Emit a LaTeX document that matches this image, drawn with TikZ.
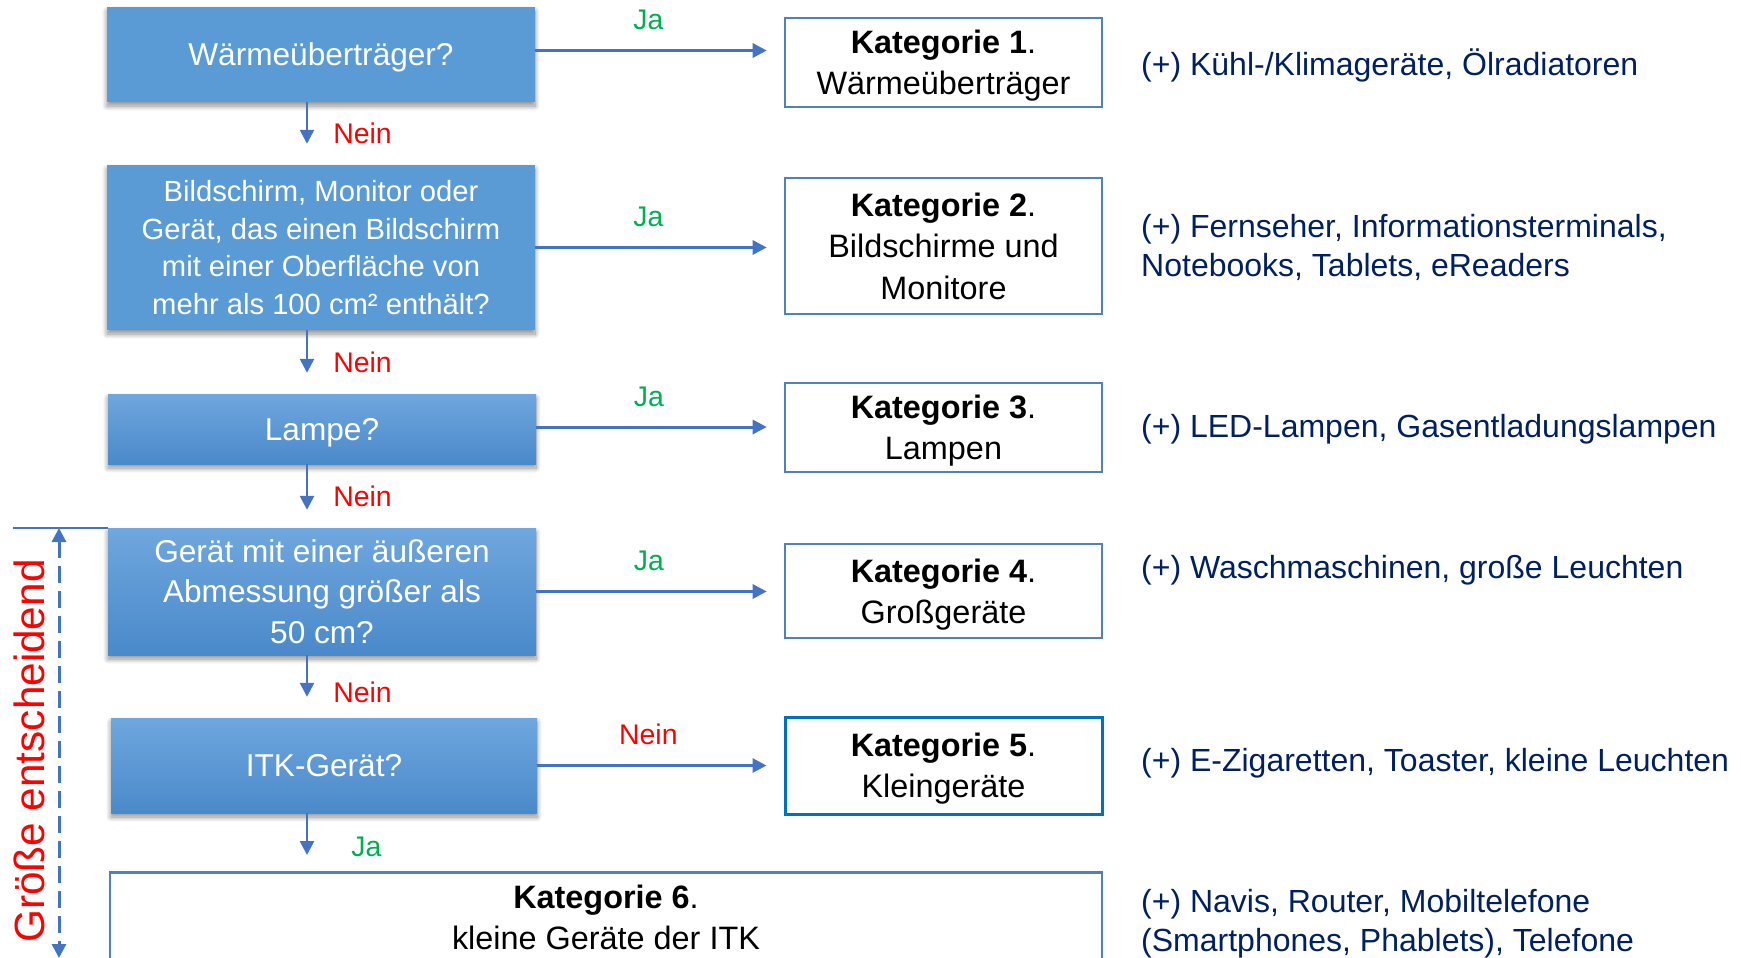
\documentclass[tikz,border=0pt]{standalone}
\usepackage{fontspec}
\setmainfont{Liberation Sans}
\usepackage{xcolor}
\usepackage{tikz}
\usetikzlibrary{arrows.meta}
\usetikzlibrary{positioning}
\usetikzlibrary{shadows.blur}

\definecolor{boxblue}{HTML}{5B9BD5}
\definecolor{gradtop}{HTML}{6FA7DE}
\definecolor{gradbot}{HTML}{4A89CA}
\definecolor{arrowblue}{HTML}{4472C4}
\definecolor{katblue}{HTML}{4F81BD}
\definecolor{katfive}{HTML}{0070C0}
\definecolor{navy}{HTML}{002060}
\definecolor{jagreen}{HTML}{00B050}
\definecolor{neinred}{HTML}{FF0000}

\begin{document}
\begin{tikzpicture}[x=1pt, y=-1pt,
    frage/.style={draw=none, text=white, align=center, inner sep=0pt, text depth=0pt,
      minimum width=428pt, font=\fontsize{31.6pt}{40.5pt}\selectfont,
      blur shadow={shadow xshift=0pt, shadow yshift=-4pt, shadow blur radius=5pt,
        shadow blur steps=10, shadow opacity=45}},
    frageflat/.style={frage, fill=boxblue},
    fragegrad/.style={frage, top color=gradtop, bottom color=gradbot},
    kattext/.style={align=center, inner sep=0pt, text depth=0pt, font=\fontsize{32.4pt}{41.3pt}\selectfont},
    kat/.style={kattext, draw=katblue, line width=2.6pt, fill=white, minimum width=317pt},
    info/.style={anchor=west, align=left, text=navy, inner sep=0pt,
      font=\fontsize{32pt}{39pt}\selectfont},
    pfeil/.style={draw=arrowblue, line width=3pt, -{Triangle[length=14pt, width=14pt]}},
    runter/.style={pfeil, line width=2.6pt, shorten >=21pt},
    rechts/.style={pfeil, shorten >=17pt},
    ja/.style={text=jagreen, inner sep=0pt, font=\fontsize{28.4pt}{34pt}\selectfont},
    nein/.style={ja, text=neinred}]
    \useasboundingbox (0,0) rectangle (1741,958);
    \clip (0,0) rectangle (1741,958);

    % Fragen
    \node[frageflat, minimum height=95pt] (A) at (321,54.5) {Wärmeüberträger?};
    \node[frageflat, minimum height=165pt, font=\fontsize{29.2pt}{37.7pt}\selectfont] (B) at (321,247.5)
      {Bildschirm, Monitor oder\\Gerät, das einen Bildschirm\\mit einer Oberfläche von\\mehr als 100 cm² enthält?};
    \node[fragegrad, minimum height=70pt] (C) at (322,429) {Lampe?};
    \node[fragegrad, minimum height=127pt] (D) at (322,591.5) {Gerät mit einer äußeren\\Abmessung größer als\\50 cm?};
    \node[fragegrad, minimum height=95pt, minimum width=426pt] (E) at (324,765.5) {ITK-Gerät?};

    % Kategorien
    \node[kat, minimum height=89pt] (K1) at (943.5,62.5) {\textbf{Kategorie 1}.\\Wärmeüberträger};
    \node[kat, minimum height=136pt] (K2) at (943.5,246) {\textbf{Kategorie 2}.\\Bildschirme und\\Monitore};
    \node[kat, minimum height=89pt] (K3) at (943.5,427.5) {\textbf{Kategorie 3}.\\Lampen};
    \node[kat, minimum height=94pt] (K4) at (943.5,591) {\textbf{Kategorie 4}.\\Großgeräte};
    \node[kat, minimum height=97pt, draw=katfive, line width=3pt] (K5) at (943.5,765.5) {\textbf{Kategorie 5}.\\Kleingeräte};
    \node[kat, anchor=north, minimum width=992pt, minimum height=200pt] (K6) at (606,871) {};
    \node[kattext] (K6text) at (606,917) {\textbf{Kategorie 6}.\\kleine Geräte der ITK};

    % Beispiele
    \node[info] (I1) at (1141,65) {(+) Kühl-/Klimageräte, Ölradiatoren};
    \node[info] (I2) at (1141,247) {(+) Fernseher, Informationsterminals,\\Notebooks, Tablets, eReaders};
    \node[info] (I3) at (1141,429) {(+) LED-Lampen, Gasentladungslampen};
    \node[info] (I4) at (1141,570) {(+) Waschmaschinen, große Leuchten};
    \node[info] (I5) at (1141,763) {(+) E-Zigaretten, Toaster, kleine Leuchten};
    \node[info] (I6) at (1141,924) {(+) Navis, Router, Mobiltelefone\\(Smartphones, Phablets), Telefone};

    \coordinate (col) at (307,0);
    \draw[runter] (A.south -| col) -- node[nein, right=25pt] {Nein} (B.north -| col);
    \draw[runter] (B.south -| col) -- node[nein, right=25pt] {Nein} (C.north -| col);
    \draw[runter, shorten >=18pt] (C.south -| col) -- node[nein, right=25pt] {Nein} (D.north -| col);
    \draw[runter] (D.south -| col) -- node[nein, right=25pt, yshift=-6pt] {Nein} (E.north -| col);
    \draw[runter, shorten >=16pt] (E.south -| col) -- node[ja, right=43pt, yshift=-5pt] {Ja} (K6.north -| col);

    \draw[rechts] ([yshift=4pt]A.east) -- node[ja, above=19pt, xshift=-11pt] {Ja} ([yshift=4pt]A.east -| K1.west);
    \draw[rechts] (B.east) -- node[ja, above=19pt, xshift=-11pt] {Ja} (B.east -| K2.west);
    \draw[rechts] ([yshift=2pt]C.east) -- node[ja, above=19pt, xshift=-11pt] {Ja} ([yshift=2pt]C.east -| K3.west);
    \draw[rechts] (D.east) -- node[ja, above=19pt, xshift=-11pt] {Ja} (D.east -| K4.west);
    \draw[rechts] (E.east) -- node[nein, above=19pt, xshift=-12pt] {Nein} (E.east -| K5.west);

    % Groesse entscheidend
    \coordinate (marke) at (13,528);
    \coordinate (pfeiloben) at (59,528);
    \coordinate (pfeilunten) at (59,958);
    \draw[arrowblue, line width=2pt] (marke) -- (marke -| D.west);
    \draw[arrowblue, line width=3pt, dash pattern=on 17pt off 8pt,
      {Triangle[length=14pt, width=14pt]}-{Triangle[length=14pt, width=14pt]}] (pfeiloben) -- (pfeilunten);
    \node[rotate=90, text=neinred, inner sep=0pt, font=\fontsize{42.3pt}{50pt}\selectfont] (groesse) at (29,751) {Größe entscheidend};
\end{tikzpicture}
\end{document}
